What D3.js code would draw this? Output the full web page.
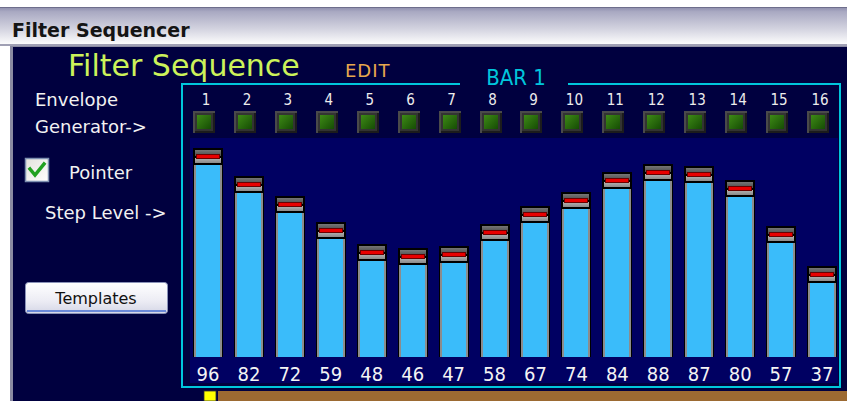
<!DOCTYPE html>
<html>
<head>
<meta charset="utf-8">
<script src="https://cdn.jsdelivr.net/npm/d3@7"></script>
<style>
  body { margin: 0; background: #fff; overflow: hidden; }
  text { font-family: "DejaVu Sans", Verdana, sans-serif; }
  .num { font-family: "DejaVu Sans Condensed", "DejaVu Sans", sans-serif; }
</style>
</head>
<body>
<div id="chart"></div>
<script>
// data
var steps = ["1", "2", "3", "4", "5", "6", "7", "8", "9", "10", "11", "12", "13", "14", "15", "16"];
var levels = [96, 82, 72, 59, 48, 46, 47, 58, 67, 74, 84, 88, 87, 80, 57, 37];

var width = 847, height = 401;
var barBottom = 357;

var svg = d3.select("#chart").append("svg")
  .attr("width", width)
  .attr("height", height)
  .attr("viewBox", [0, 0, width, height]);

var defs = svg.append("defs");
var grad = (id, stops, x2, y2) => {
  var g = defs.append("linearGradient").attr("id", id)
    .attr("x1", 0).attr("y1", 0).attr("x2", x2 || 0).attr("y2", y2 == null ? 1 : y2);
  stops.forEach(s => g.append("stop").attr("offset", s[0]).attr("stop-color", s[1]));
};
grad("titlebar", [[0, "#8c8cab"], [0.12, "#a9a9c2"], [0.55, "#d2d2df"], [0.9, "#f7f7f9"], [1, "#ffffff"]]);
grad("btn", [[0, "#ffffff"], [0.6, "#ececf4"], [1, "#d4d6e6"]]);
grad("capTop", [[0, "#767676"], [1, "#4c4c4c"]]);
grad("capLow", [[0, "#b4b4b4"], [1, "#8a8a8a"]]);
grad("led", [[0, "#3e8a16"], [1, "#154c04"]], 1, 1);
grad("chk", [[0, "#e2e2dc"], [1, "#ffffff"]], 1, 1);

// window title bar
svg.append("rect").attr("x", 0).attr("y", 7).attr("width", width).attr("height", 39)
  .attr("fill", "url(#titlebar)");
svg.append("rect").attr("x", 0).attr("y", 7).attr("width", width).attr("height", 1).attr("fill", "#6e6e8c");
svg.append("rect").attr("x", 0).attr("y", 44).attr("width", width).attr("height", 2).attr("fill", "#a0a0b4");
svg.append("text").attr("x", 12).attr("y", 37)
  .attr("font-size", 19).attr("font-weight", "bold").attr("fill", "#141414")
  .text("Filter Sequencer");

// dark panel
svg.append("rect").attr("x", 10).attr("y", 46).attr("width", width - 10).attr("height", height - 46)
  .attr("fill", "#8a8aa2");
svg.append("rect").attr("x", 13).attr("y", 47).attr("width", width - 13).attr("height", height - 47)
  .attr("fill", "#00003f");

svg.append("text").attr("x", 68).attr("y", 76)
  .attr("font-size", 30).attr("fill", "#ccf25a").text("Filter Sequence");
svg.append("text").attr("x", 345).attr("y", 77)
  .attr("font-size", 18).attr("letter-spacing", 1).attr("fill", "#e8a84e").text("EDIT");

// left side labels
var labels = [
  { t: "Envelope", x: 35, y: 106 },
  { t: "Generator->", x: 35, y: 133 },
  { t: "Pointer", x: 69, y: 179 },
  { t: "Step Level ->", x: 45, y: 219 }
];
svg.append("g").selectAll("text").data(labels).join("text")
  .attr("x", d => d.x).attr("y", d => d.y)
  .attr("font-size", 18).attr("fill", "#f2f2f2")
  .text(d => d.t);

// checkbox
svg.append("rect").attr("x", 25.5).attr("y", 158.5).attr("width", 23).attr("height", 23)
  .attr("fill", "url(#chk)").attr("stroke", "#7d8fb0").attr("stroke-width", 1.5);
svg.append("path").attr("d", "M30,169 L35,175 L44,164")
  .attr("fill", "none").attr("stroke", "#21a121").attr("stroke-width", 3.5)
  .attr("stroke-linecap", "square");

// Templates button
svg.append("rect").attr("x", 25.5).attr("y", 282.5).attr("width", 142).attr("height", 31).attr("rx", 3)
  .attr("fill", "url(#btn)").attr("stroke", "#8a92b8");
svg.append("rect").attr("x", 27).attr("y", 310).attr("width", 139).attr("height", 2)
  .attr("fill", "#6a88d8");
svg.append("text").attr("x", 96).attr("y", 304).attr("text-anchor", "middle")
  .attr("font-size", 16).attr("fill", "#111").text("Templates");

// scales
var x = d3.scaleBand().domain(steps).range([188, 842]).paddingInner(0.267).paddingOuter(0.122);
var y = d3.scaleLinear().domain([0, 100]).range([340, 140]);
var bw = x.bandwidth();

// bar area
svg.append("rect").attr("x", 190).attr("y", 138).attr("width", 648).attr("height", 245)
  .attr("fill", "#000062");

// cyan frame
var frame = svg.append("g").attr("fill", "#00c6dc").attr("shape-rendering", "crispEdges");
frame.append("rect").attr("x", 181).attr("y", 83).attr("width", 279).attr("height", 2);
frame.append("rect").attr("x", 568).attr("y", 83).attr("width", 273).attr("height", 2);
frame.append("rect").attr("x", 181).attr("y", 83).attr("width", 2).attr("height", 305);
frame.append("rect").attr("x", 839).attr("y", 83).attr("width", 2).attr("height", 305);
frame.append("rect").attr("x", 181).attr("y", 386).attr("width", 660).attr("height", 2);
svg.append("text").attr("class", "num").attr("x", 516).attr("y", 85).attr("text-anchor", "middle")
  .attr("font-size", 22).attr("fill", "#00c6dc").text("BAR 1");

// step numbers
svg.append("g").selectAll("text").data(steps).join("text")
  .attr("class", "num")
  .attr("x", d => x(d) + bw / 2 - 2).attr("y", 105)
  .attr("text-anchor", "middle").attr("font-size", 15).attr("fill", "#ececec")
  .text(d => d);

// envelope LEDs
var led = svg.append("g").attr("shape-rendering", "crispEdges").selectAll("g").data(steps).join("g")
  .attr("transform", d => `translate(${Math.round(x(d) + bw / 2 - 4 - 11)},111)`);
led.append("rect").attr("width", 22).attr("height", 22).attr("fill", "#4a4a4a");
led.append("rect").attr("x", 2).attr("y", 2).attr("width", 20).attr("height", 20).attr("fill", "#1c1c1c");
led.append("rect").attr("x", 2).attr("y", 2).attr("width", 18).attr("height", 18).attr("fill", "#333");
led.append("rect").attr("x", 4).attr("y", 4).attr("width", 14).attr("height", 14).attr("fill", "url(#led)");

// step level bars
var bars = svg.append("g").attr("shape-rendering", "crispEdges")
  .selectAll("g").data(levels).join("g")
  .attr("transform", (d, i) => `translate(${Math.round(x(steps[i]))},${Math.round(y(d))})`);
var h = d => barBottom - Math.round(y(d));
bars.append("rect").attr("width", bw).attr("height", h).attr("fill", "#000");
bars.append("rect").attr("x", 1).attr("y", 17).attr("width", bw - 2).attr("height", d => h(d) - 17)
  .attr("fill", "#8c8c8c");
bars.append("rect").attr("x", 3).attr("y", 17).attr("width", bw - 6).attr("height", d => h(d) - 17)
  .attr("fill", "#3abcfa");
bars.append("rect").attr("x", 2).attr("y", 2).attr("width", bw - 4).attr("height", 6)
  .attr("fill", "url(#capTop)");
bars.append("rect").attr("x", 2).attr("y", 10).attr("width", bw - 4).attr("height", 5)
  .attr("fill", "url(#capLow)");
bars.append("rect").attr("x", 3).attr("y", 6).attr("width", bw - 6).attr("height", 5)
  .attr("fill", "#6a0000");
bars.append("rect").attr("x", 4).attr("y", 7).attr("width", bw - 8).attr("height", 3)
  .attr("fill", "#e80000");

// value labels
svg.append("g").selectAll("text").data(levels).join("text")
  .attr("class", "num")
  .attr("x", (d, i) => x(steps[i]) + bw / 2).attr("y", 381)
  .attr("text-anchor", "middle").attr("font-size", 20).attr("fill", "#f4f4f4")
  .text(d => d);

// position strip at the bottom
svg.append("rect").attr("x", 218).attr("y", 391).attr("width", width - 218).attr("height", 10)
  .attr("fill", "#9c6a32");
svg.append("rect").attr("x", 204).attr("y", 391).attr("width", 12).attr("height", 10)
  .attr("fill", "#ffff00").attr("stroke", "#333").attr("stroke-width", 0.8);
</script>
</body>
</html>
